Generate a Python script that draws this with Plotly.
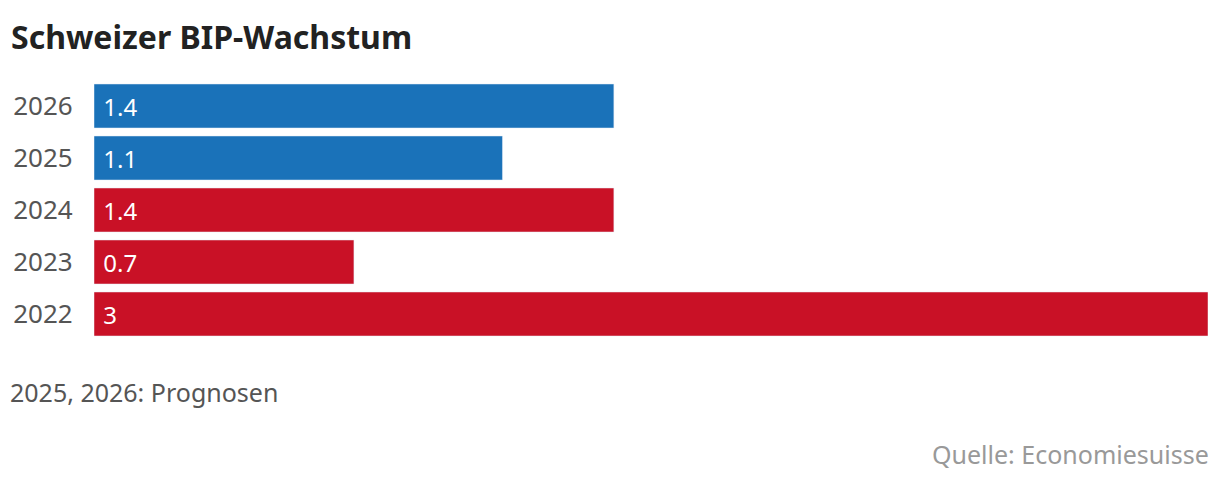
import plotly.graph_objects as go

years = ["2022", "2023", "2024", "2025", "2026"]
growth = [3, 0.7, 1.4, 1.1, 1.4]
forecast = [False, False, False, True, True]

title = "Schweizer BIP-Wachstum"
note = "2025, 2026: Prognosen"
source = "Quelle: Economiesuisse"

RED = "#c91126"
BLUE = "#1a72b9"
FONT = "Noto Sans"

colors = [BLUE if f else RED for f in forecast]
labels = ["\u00a0" + f"{v:g}" for v in growth]

fig = go.Figure(go.Bar(
    y=years, x=growth, orientation="h",
    marker=dict(color=colors),
    text=labels, textposition="inside", insidetextanchor="start",
    textfont=dict(family=FONT, size=24, color="white"),
    hoverinfo="skip",
))

fig.add_annotation(x=0, y=1, xref="paper", yref="paper", text="<b>" + title + "</b>",
                   xanchor="left", yanchor="middle", xshift=-85, yshift=44, showarrow=False,
                   font=dict(family=FONT, size=32, color="#222222"))
fig.add_annotation(x=0, y=0, xref="paper", yref="paper", text=note,
                   xanchor="left", yanchor="middle", xshift=-86, yshift=-52, showarrow=False,
                   font=dict(family=FONT, size=25, color="#555555"))
fig.add_annotation(x=1, y=0, xref="paper", yref="paper", text=source,
                   xanchor="right", yanchor="middle", xshift=3, yshift=-114, showarrow=False,
                   font=dict(family=FONT, size=25, color="#999999"))

fig.update_layout(
    width=1220, height=486,
    margin=dict(l=86, r=20, t=72, b=154),
    paper_bgcolor="white", plot_bgcolor="white",
    bargap=0.154,
    showlegend=False,
    xaxis=dict(range=[0, 3], showticklabels=False, showgrid=False, zeroline=False,
               showline=False, automargin=False),
    yaxis=dict(type="category", showgrid=False, zeroline=False, showline=False,
               automargin=False, ticks="", ticksuffix="\u00a0\u00a0\u00a0",
               tickfont=dict(family=FONT, size=26, color="#555555")),
)

fig.write_html("out.html")
